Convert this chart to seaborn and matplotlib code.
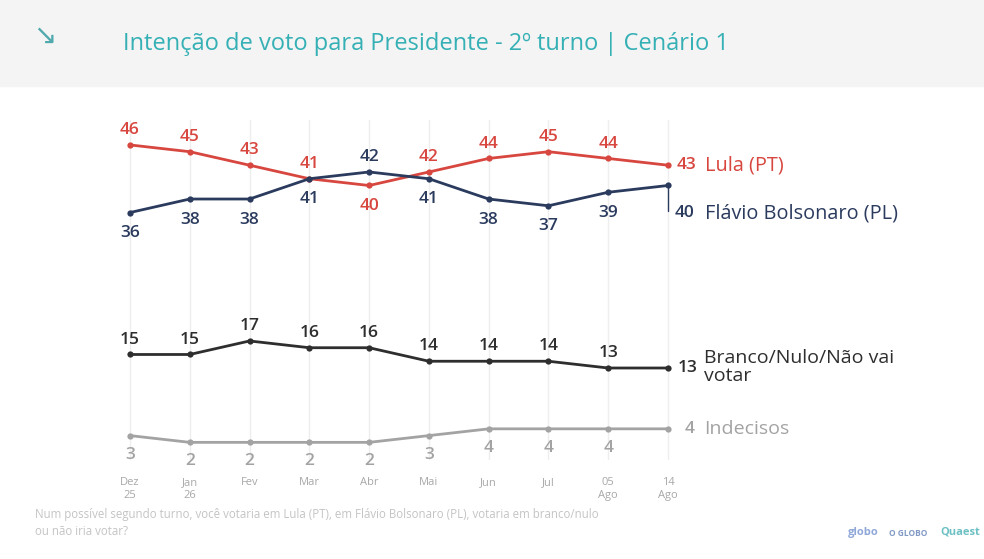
import numpy as np
import pandas as pd
import matplotlib
matplotlib.use("Agg")
import matplotlib.pyplot as plt
import seaborn as sns

# dados
meses = ["Dez\n25", "Jan\n26", "Fev", "Mar", "Abr", "Mai", "Jun", "Jul", "05\nAgo", "14\nAgo"]
lula = [46, 45, 43, 41, 40, 42, 44, 45, 44, 43]
flavio = [36, 38, 38, 41, 42, 41, 38, 37, 39, 40]
branco = [15, 15, 17, 16, 16, 14, 14, 14, 13, 13]
indecisos = [3, 2, 2, 2, 2, 3, 4, 4, 4, 4]

series = ["Lula (PT)", "Flávio Bolsonaro (PL)", "Branco/Nulo/Não vai\nvotar", "Indecisos"]
cores = ["#d8473f", "#2b3b5e", "#2e2e2e", "#a3a3a3"]

x = np.arange(len(meses))
df = pd.DataFrame({
    "x": np.tile(x, 4),
    "valor": lula + flavio + branco + indecisos,
    "serie": np.repeat(series, len(meses)),
})

sns.set_style("white")
plt.rcParams["font.family"] = ["Open Sans", "DejaVu Sans"]

fig = plt.figure(figsize=(9.84, 5.59), dpi=100)
W, H = 984, 559

# faixa do cabeçalho
fig.patches.append(plt.Rectangle((0, 1 - 86 / H), 1, 86 / H, transform=fig.transFigure,
                                 color="#f4f4f4", zorder=0))
fig.text(33 / W, 1 - 36 / H, "↘", color="#4fa9ad", fontsize=20, va="center",
         family="DejaVu Sans")
fig.text(123 / W, 1 - 44 / H, "Intenção de voto para Presidente - 2º turno | Cenário 1",
         color="#35b0b5", fontsize=17, va="center")

ax = fig.add_axes([100 / W, (H - 460) / H, 598 / W, 340 / H])
sns.lineplot(data=df, x="x", y="valor", hue="serie", palette=cores, marker="o",
             markersize=4.5, markeredgewidth=0, linewidth=2, legend=False, ax=ax)
ax.set_xlim(-0.502, 9.502)
ax.set_ylim(-0.61, 49.69)
for xi in x:
    ax.axvline(xi, color="#eeeeee", lw=1, zorder=0)
ax.set_yticks([])
ax.set_xticks(x)
ax.set_xticklabels(meses, fontsize=8, color="#a8a8a8", va="top", linespacing=1.35)
ax.tick_params(axis="x", length=0, pad=12)
ax.set_xlabel("")
ax.set_ylabel("")
sns.despine(ax=ax, left=True, bottom=True)

kw = dict(ha="center", fontsize=12.5, fontweight="semibold")
for i in range(len(meses) - 1):
    acima_l = i != 4
    ax.annotate(str(lula[i]), (i, lula[i]), xytext=(0, 5 if acima_l else -9),
                textcoords="offset points", va="bottom" if acima_l else "top",
                color=cores[0], **kw)
    acima_f = i == 4
    ax.annotate(str(flavio[i]), (i, flavio[i]), xytext=(0, 5 if acima_f else -9),
                textcoords="offset points", va="bottom" if acima_f else "top",
                color=cores[1], **kw)
    ax.annotate(str(branco[i]), (i, branco[i]), xytext=(0, 5), textcoords="offset points",
                va="bottom", color=cores[2], **kw)
    ax.annotate(str(indecisos[i]), (i, indecisos[i]), xytext=(0, -8),
                textcoords="offset points", va="top", color=cores[3], **kw)

# rótulos finais
n = len(meses) - 1
ax.annotate("43", (n, lula[n]), xytext=(6, 0), textcoords="offset points",
            va="center", color=cores[0], fontsize=12.5, fontweight="semibold")
ax.annotate("Lula (PT)", (n, lula[n]), xytext=(27, 0), textcoords="offset points",
            va="center", color=cores[0], fontsize=14.3)
ax.plot([n, n], [flavio[n], flavio[n] - 3.8], color=cores[1], lw=1)
ax.annotate("40", (n, flavio[n]), xytext=(5, -20), textcoords="offset points",
            va="center", color=cores[1], fontsize=12.5, fontweight="semibold")
ax.annotate("Flávio Bolsonaro (PL)", (n, flavio[n]), xytext=(27, -20),
            textcoords="offset points", va="center", color=cores[1], fontsize=14.3)
ax.annotate("13", (n, branco[n]), xytext=(7, 0), textcoords="offset points",
            va="center", color=cores[2], fontsize=12.5, fontweight="semibold")
ax.annotate("Branco/Nulo/Não vai\nvotar", (n, branco[n]), xytext=(26, 1),
            textcoords="offset points", va="center", color=cores[2], fontsize=14,
            linespacing=1.0)
ax.annotate("4", (n, indecisos[n]), xytext=(12, 0), textcoords="offset points",
            va="center", color=cores[3], fontsize=12.5, fontweight="semibold")
ax.annotate("Indecisos", (n, indecisos[n]), xytext=(26, 0), textcoords="offset points",
            va="center", color=cores[3], fontsize=14)

fig.text(35 / W, 1 - 523 / H,
         "Num possível segundo turno, você votaria em Lula (PT), em Flávio Bolsonaro (PL), votaria em branco/nulo\nou não iria votar?",
         color="#c4c4c4", fontsize=8.3, va="center", linespacing=1.4)
fig.text(848 / W, 1 - 533 / H, "globo", color="#8fa8d8", fontsize=8, fontweight="bold", va="center")
fig.text(889 / W, 1 - 533 / H, "O GLOBO", color="#7f98c4", fontsize=6, fontweight="bold", va="center")
fig.text(940 / W, 1 - 532 / H, "Quaest", color="#6cc0c4", fontsize=8, fontweight="bold", va="center")

fig.savefig("out.png", dpi=100)
